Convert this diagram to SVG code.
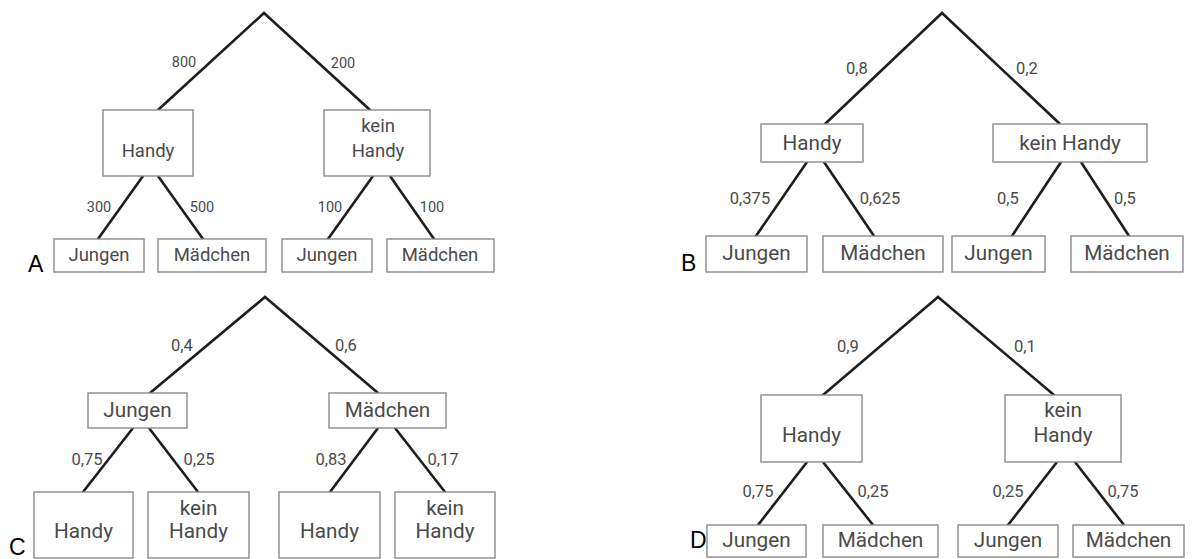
<svg xmlns="http://www.w3.org/2000/svg" width="1194" height="559" viewBox="0 0 1194 559">
<style>
.bg{fill:#ffffff}
.box{fill:#ffffff;stroke:#8a8a8a;stroke-width:1.4}
.edge{stroke:#1e1e1e;stroke-width:2.6;fill:none;stroke-linecap:round}
.t{font-family:Roboto,"Open Sans",sans-serif;fill:#4a4a4a;text-anchor:middle}
.ta{font-size:18.5px}
.tb{font-size:20.7px}
.na{font-family:Roboto,"Open Sans",sans-serif;fill:#4a4a4a;text-anchor:middle;font-size:14.5px}
.nb{font-family:Roboto,"Open Sans",sans-serif;fill:#4a4a4a;text-anchor:middle;font-size:16.5px}
.lt{font-family:"Liberation Sans",Arial,sans-serif;font-size:23px;fill:#000}
</style>
<rect class="bg" x="0" y="0" width="1194" height="559"/>

<g id="connectors">
  <!-- A -->
  <line class="edge" x1="264" y1="13" x2="158" y2="110"/>
  <line class="edge" x1="264" y1="13" x2="370" y2="110"/>
  <line class="edge" x1="143" y1="176" x2="98" y2="239"/>
  <line class="edge" x1="158" y1="176" x2="203" y2="239"/>
  <line class="edge" x1="373" y1="176" x2="328" y2="239"/>
  <line class="edge" x1="390" y1="176" x2="434" y2="239"/>
  <!-- B -->
  <line class="edge" x1="942" y1="13" x2="825" y2="124"/>
  <line class="edge" x1="942" y1="13" x2="1060" y2="124"/>
  <line class="edge" x1="807" y1="162" x2="756" y2="236"/>
  <line class="edge" x1="824" y1="162" x2="874" y2="236"/>
  <line class="edge" x1="1061" y1="162" x2="1012" y2="236"/>
  <line class="edge" x1="1081" y1="162" x2="1129" y2="236"/>
  <!-- C -->
  <line class="edge" x1="265" y1="297" x2="150" y2="393"/>
  <line class="edge" x1="265" y1="297" x2="378" y2="393"/>
  <line class="edge" x1="133" y1="428" x2="83" y2="492"/>
  <line class="edge" x1="149" y1="428" x2="198" y2="492"/>
  <line class="edge" x1="378" y1="428" x2="330" y2="492"/>
  <line class="edge" x1="395" y1="428" x2="445" y2="492"/>
  <!-- D -->
  <line class="edge" x1="938" y1="297" x2="823" y2="395"/>
  <line class="edge" x1="938" y1="297" x2="1054" y2="395"/>
  <line class="edge" x1="807" y1="462" x2="758" y2="525"/>
  <line class="edge" x1="823" y1="462" x2="873" y2="525"/>
  <line class="edge" x1="1057" y1="462" x2="1008" y2="525"/>
  <line class="edge" x1="1075" y1="462" x2="1124" y2="525"/>
</g>

<g id="edge-labels">
  <text class="na" x="184" y="67">800</text>
  <text class="na" x="343" y="68">200</text>
  <text class="na" x="99" y="212">300</text>
  <text class="na" x="202" y="212">500</text>
  <text class="na" x="330" y="212">100</text>
  <text class="na" x="432" y="212">100</text>

  <text class="nb" x="857" y="74">0,8</text>
  <text class="nb" x="1027" y="74">0,2</text>
  <text class="nb" x="750" y="204">0,375</text>
  <text class="nb" x="880" y="204">0,625</text>
  <text class="nb" x="1008" y="204">0,5</text>
  <text class="nb" x="1125" y="204">0,5</text>

  <text class="nb" x="182" y="351">0,4</text>
  <text class="nb" x="346" y="351">0,6</text>
  <text class="nb" x="87" y="465">0,75</text>
  <text class="nb" x="199" y="465">0,25</text>
  <text class="nb" x="331" y="465">0,83</text>
  <text class="nb" x="443" y="465">0,17</text>

  <text class="nb" x="848" y="352">0,9</text>
  <text class="nb" x="1025" y="352">0,1</text>
  <text class="nb" x="758" y="497">0,75</text>
  <text class="nb" x="873" y="497">0,25</text>
  <text class="nb" x="1008" y="497">0,25</text>
  <text class="nb" x="1123" y="497">0,75</text>
</g>

<!-- Panel A -->
<g id="A-label"><text class="lt" x="28" y="272">A</text></g>
<g id="A-handy"><rect class="box" x="103" y="110" width="90" height="66"/><text class="t ta" x="148" y="157">Handy</text></g>
<g id="A-keinhandy"><rect class="box" x="324" y="110" width="106" height="66"/><text class="t ta" x="378" y="132">kein</text><text class="t ta" x="378" y="157">Handy</text></g>
<g id="A-jungen1"><rect class="box" x="54" y="239" width="90" height="33"/><text class="t ta" x="99" y="261">Jungen</text></g>
<g id="A-maedchen1"><rect class="box" x="158" y="239" width="108" height="33"/><text class="t ta" x="212" y="261">Mädchen</text></g>
<g id="A-jungen2"><rect class="box" x="282" y="239" width="90" height="33"/><text class="t ta" x="327" y="261">Jungen</text></g>
<g id="A-maedchen2"><rect class="box" x="387" y="239" width="107" height="33"/><text class="t ta" x="440" y="261">Mädchen</text></g>

<!-- Panel B -->
<g id="B-label"><text class="lt" x="681" y="271">B</text></g>
<g id="B-handy"><rect class="box" x="761" y="124" width="102" height="38"/><text class="t tb" x="812" y="150">Handy</text></g>
<g id="B-keinhandy"><rect class="box" x="993" y="124" width="154" height="38"/><text class="t tb" x="1070" y="150">kein Handy</text></g>
<g id="B-jungen1"><rect class="box" x="706" y="236" width="101" height="36"/><text class="t tb" x="756.5" y="260">Jungen</text></g>
<g id="B-maedchen1"><rect class="box" x="823" y="236" width="120" height="36"/><text class="t tb" x="883" y="260">Mädchen</text></g>
<g id="B-jungen2"><rect class="box" x="952" y="236" width="93" height="36"/><text class="t tb" x="998.5" y="260">Jungen</text></g>
<g id="B-maedchen2"><rect class="box" x="1071" y="236" width="112" height="36"/><text class="t tb" x="1127" y="260">Mädchen</text></g>

<!-- Panel C -->
<g id="C-label"><text class="lt" x="9" y="555">C</text></g>
<g id="C-jungen"><rect class="box" x="88" y="393" width="99" height="35"/><text class="t tb" x="137.5" y="417">Jungen</text></g>
<g id="C-maedchen"><rect class="box" x="329" y="393" width="117" height="35"/><text class="t tb" x="387.5" y="417">Mädchen</text></g>
<g id="C-handy1"><rect class="box" x="34" y="492" width="99" height="66"/><text class="t tb" x="83.5" y="538">Handy</text></g>
<g id="C-keinhandy1"><rect class="box" x="148" y="492" width="101" height="66"/><text class="t tb" x="198.5" y="515">kein</text><text class="t tb" x="198.5" y="538">Handy</text></g>
<g id="C-handy2"><rect class="box" x="279" y="492" width="101" height="66"/><text class="t tb" x="329.5" y="538">Handy</text></g>
<g id="C-keinhandy2"><rect class="box" x="395" y="492" width="100" height="66"/><text class="t tb" x="445" y="515">kein</text><text class="t tb" x="445" y="538">Handy</text></g>

<!-- Panel D -->
<g id="D-label"><text class="lt" x="690" y="548">D</text></g>
<g id="D-handy"><rect class="box" x="761" y="395" width="101" height="67"/><text class="t tb" x="811.5" y="442">Handy</text></g>
<g id="D-keinhandy"><rect class="box" x="1005" y="395" width="116" height="67"/><text class="t tb" x="1063" y="417">kein</text><text class="t tb" x="1063" y="442">Handy</text></g>
<g id="D-jungen1"><rect class="box" x="707" y="525" width="99" height="32"/><text class="t tb" x="756.5" y="547">Jungen</text></g>
<g id="D-maedchen1"><rect class="box" x="823" y="525" width="115" height="32"/><text class="t tb" x="880.5" y="547">Mädchen</text></g>
<g id="D-jungen2"><rect class="box" x="958" y="525" width="100" height="32"/><text class="t tb" x="1008" y="547">Jungen</text></g>
<g id="D-maedchen2"><rect class="box" x="1073" y="525" width="111" height="32"/><text class="t tb" x="1128.5" y="547">Mädchen</text></g>
</svg>
